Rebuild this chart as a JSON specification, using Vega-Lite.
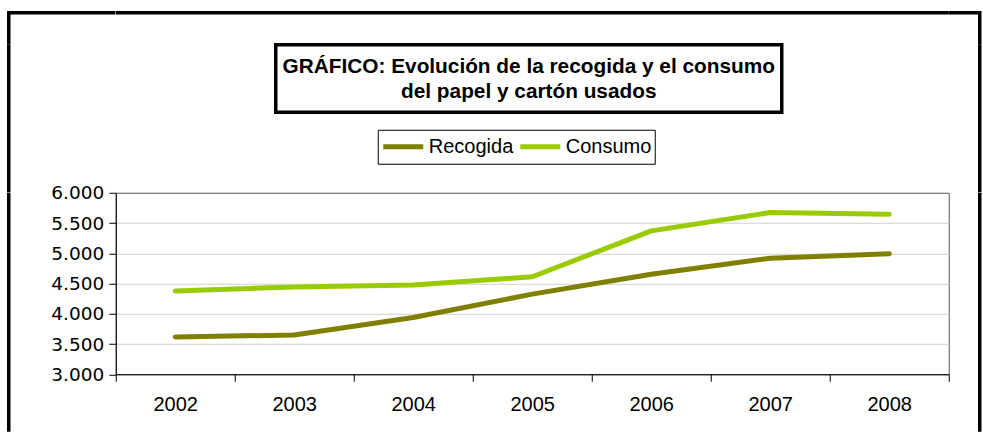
{
  "$schema": "https://vega.github.io/schema/vega-lite/v6.json",
  "padding": {"left": 6.75, "top": 10.75, "right": 0, "bottom": 0},
  "background": "white",
  "config": {
    "locale": {"number": {"decimal": ",", "thousands": ".", "grouping": [3], "currency": ["", " €"]}},
    "font": "Liberation Sans"
  },
  "columns": 3,
  "bounds": "flush",
  "center": false,
  "spacing": 0,
  "resolve": {"legend": {"color": "independent"}},
  "concat": [
    {"width": 106.5, "height": 32, "view": {"stroke": "black", "strokeWidth": 3.5, "fill": null, "strokeDash": [106.5, 138.5, 32]}, "data": {"values": []}, "mark": "rule", "encoding": {}},
    {"width": 833, "height": 32, "view": {"stroke": "black", "strokeWidth": 3.5, "fill": null, "strokeDash": [833, 2000]}, "data": {"values": []}, "mark": "rule", "encoding": {}},
    {"width": 31, "height": 32, "view": {"stroke": "black", "strokeWidth": 3.5, "fill": null, "strokeDash": [63, 63]}, "data": {"values": []}, "mark": "rule", "encoding": {}},
    {"width": 106.5, "height": 147.5, "view": {"stroke": "black", "strokeWidth": 3.5, "fill": null, "strokeDash": [0, 360.5, 147.5]}, "data": {"values": []}, "mark": "rule", "encoding": {}},
    {
      "hconcat": [
        {"width": 160, "height": 67.5, "view": {"stroke": null, "fill": null}, "data": {"values": []}, "mark": "rule", "encoding": {}},
        {
          "width": 506,
          "height": 67.5,
          "view": {"stroke": "black", "strokeWidth": 3.5, "fill": "white"},
          "data": {"values": [{"titulo": "GRÁFICO: Evolución de la recogida y el consumo\ndel papel y cartón usados"}]},
          "mark": {"type": "text", "font": "Liberation Sans", "fontWeight": "bold", "fontSize": 20.8, "lineBreak": "\n", "lineHeight": 25, "color": "black", "align": "center", "baseline": "middle", "dy": -12},
          "encoding": {"text": {"field": "titulo"}}
        }
      ],
      "spacing": 0,
      "bounds": "flush"
    },
    {"width": 31, "height": 147.5, "view": {"stroke": "black", "strokeWidth": 3.5, "fill": null, "strokeDash": [0, 31, 147.5, 178.5]}, "data": {"values": []}, "mark": "rule", "encoding": {}},
    {"width": 106.5, "height": 239, "view": {"stroke": "black", "strokeWidth": 3.5, "fill": null, "strokeDash": [0, 452, 239]}, "data": {"values": []}, "mark": "rule", "encoding": {}},
    {
      "width": 833,
      "height": 181.5,
      "view": {"stroke": "#555555", "strokeWidth": 1, "fill": "white"},
      "data": {"values": [
        {"year": "2002", "serie": "Recogida", "value": 3615},
        {"year": "2003", "serie": "Recogida", "value": 3650},
        {"year": "2004", "serie": "Recogida", "value": 3937},
        {"year": "2005", "serie": "Recogida", "value": 4324},
        {"year": "2006", "serie": "Recogida", "value": 4654},
        {"year": "2007", "serie": "Recogida", "value": 4918},
        {"year": "2008", "serie": "Recogida", "value": 4993},
        {"year": "2002", "serie": "Consumo", "value": 4378},
        {"year": "2003", "serie": "Consumo", "value": 4444},
        {"year": "2004", "serie": "Consumo", "value": 4477},
        {"year": "2005", "serie": "Consumo", "value": 4611},
        {"year": "2006", "serie": "Consumo", "value": 5370},
        {"year": "2007", "serie": "Consumo", "value": 5672},
        {"year": "2008", "serie": "Consumo", "value": 5645}
      ]},
      "mark": {"type": "line", "strokeWidth": 5, "strokeCap": "round", "strokeJoin": "round"},
      "encoding": {
        "x": {
          "field": "year", "type": "ordinal", "bandPosition": 0.5,
          "scale": {"type": "band", "paddingInner": 0, "paddingOuter": 0},
          "axis": {"title": null, "labelAngle": 0, "labelFontSize": 20, "labelFont": "Liberation Sans", "labelColor": "black", "labelPadding": 13, "tickBand": "extent", "ticks": true, "tickSize": 7, "tickColor": "black", "domainColor": "black", "grid": false}
        },
        "y": {
          "field": "value", "type": "quantitative",
          "scale": {"domain": [3000, 6000], "nice": false, "zero": false},
          "axis": {"title": null, "values": [3000, 3500, 4000, 4500, 5000, 5500, 6000], "format": ",.0f", "labelFontSize": 18.5, "labelFont": "DejaVu Sans", "labelColor": "black", "labelPadding": 5, "tickSize": 7, "tickColor": "black", "domainColor": "black", "gridColor": "#d0d0d0", "gridOpacity": {"condition": {"test": "datum.value === 3000 || datum.value === 6000", "value": 0}, "value": 1}}
        },
        "color": {
          "field": "serie", "type": "nominal",
          "scale": {"domain": ["Recogida", "Consumo"], "range": ["#808000", "#99CC00"]},
          "legend": {"title": null, "orient": "none", "legendX": 262, "legendY": -63, "direction": "horizontal", "symbolType": "stroke", "symbolStrokeWidth": 5, "symbolSize": 1600, "clipHeight": 28, "labelFontSize": 20, "labelFont": "Liberation Sans", "labelColor": "black", "labelOffset": 3, "columnPadding": 4, "padding": 3, "strokeColor": "black", "fillColor": "white", "labelLimit": 300}
        }
      }
    },
    {"width": 31, "height": 239, "view": {"stroke": "black", "strokeWidth": 3.5, "fill": null, "strokeDash": [0, 31, 239, 270]}, "data": {"values": []}, "mark": "rule", "encoding": {}}
  ]
}
